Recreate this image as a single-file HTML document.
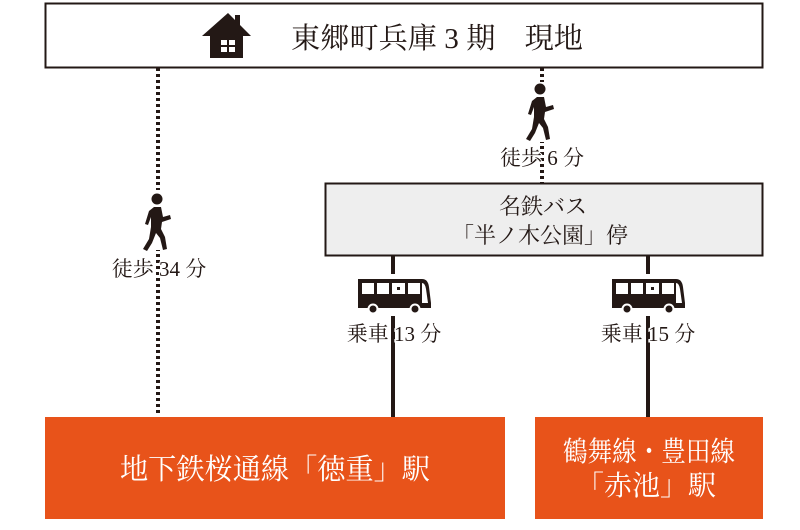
<!DOCTYPE html>
<html><head><meta charset="utf-8"><style>
html,body{margin:0;padding:0;background:#fff;}
svg{display:block}
text{font-family:"Liberation Serif","Noto Serif CJK SC","Noto Serif CJK JP",serif;}
</style></head><body>
<svg width="800" height="530" viewBox="0 0 800 530" xmlns="http://www.w3.org/2000/svg">
<defs>
<g id="walker">
  <circle cx="0" cy="0" r="5.5" fill="#231815"/>
  <path d="M-3,8 L4,8 L6,18 L13,16 L14,20 L5,23 L4,30 L8,38 L10,50 L6,51 L3,39 L-1,34 L-5,44 L-10,52 L-14,50 L-8,40 L-6,28 L-6,18 L-9,26 L-12,25 L-8,12 Z" fill="#231815"/>
</g>
<g id="bus">
  <path d="M0,0 H64 Q70,0 71,8 L73,24 V29 H0 Z" fill="#231815"/>
  <rect x="4" y="4" width="12" height="11" fill="#fff"/>
  <rect x="19" y="4" width="12" height="11" fill="#fff"/>
  <rect x="34" y="4" width="13" height="11" fill="#fff"/>
  <rect x="39" y="8" width="3" height="3" fill="#231815"/>
  <rect x="50" y="4" width="12" height="11" fill="#fff"/>
  <path d="M64,4 Q67,4 68,10 L70,24 H64 Z" fill="#fff"/>
  <circle cx="15" cy="30" r="4.5" fill="#231815" stroke="#fff" stroke-width="2"/>
  <circle cx="57" cy="30" r="4.5" fill="#231815" stroke="#fff" stroke-width="2"/>
</g>
</defs>

<line x1="158" y1="68" x2="158" y2="416" stroke="#231815" stroke-width="4" stroke-dasharray="3,3"/>
<line x1="542" y1="68" x2="542" y2="183" stroke="#231815" stroke-width="4" stroke-dasharray="3,3"/>
<line x1="393" y1="256" x2="393" y2="418" stroke="#231815" stroke-width="4"/>
<line x1="648" y1="256" x2="648" y2="418" stroke="#231815" stroke-width="4"/>

<rect x="45.5" y="3.5" width="717" height="64" fill="#fff" stroke="#231815" stroke-width="2"/>
<g fill="#231815">
  <polygon points="228,13 251,36 202,36"/>
  <rect x="235" y="15" width="5" height="13"/>
  <rect x="210" y="34" width="33" height="24"/>
</g>
<g fill="#fff">
  <rect x="221" y="40" width="6" height="5"/><rect x="229" y="40" width="6" height="5"/>
  <rect x="221" y="47" width="6" height="5"/><rect x="229" y="47" width="6" height="5"/>
</g>
<text x="437" y="48" font-size="29" text-anchor="middle" fill="#231815" textLength="292" lengthAdjust="spacingAndGlyphs">東郷町兵庫 3 期　現地</text>

<rect x="325.5" y="183.5" width="437" height="72" fill="#eeeeee" stroke="#231815" stroke-width="2"/>
<text x="543" y="214" font-size="22" text-anchor="middle" fill="#231815">名鉄バス</text>
<text x="540" y="243" font-size="22" text-anchor="middle" fill="#231815">「半ノ木公園」停</text>

<rect x="148" y="190" width="22" height="60" fill="#fff"/>
<use href="#walker" x="157" y="199"/>
<rect x="528" y="82" width="28" height="60" fill="#fff"/>
<use href="#walker" x="540" y="89"/>
<text x="159" y="276" font-size="21" text-anchor="middle" fill="#231815" stroke="#fff" stroke-width="2" paint-order="stroke">徒歩 34 分</text>
<text x="542" y="165" font-size="21" text-anchor="middle" fill="#231815" stroke="#fff" stroke-width="2" paint-order="stroke">徒歩 6 分</text>

<rect x="355" y="274" width="78" height="42" fill="#fff"/>
<use href="#bus" x="358" y="279"/>
<rect x="610" y="274" width="78" height="42" fill="#fff"/>
<use href="#bus" x="612" y="279"/>
<text x="394" y="341" font-size="21" text-anchor="middle" fill="#231815" stroke="#fff" stroke-width="3" paint-order="stroke">乗車 13 分</text>
<text x="648" y="341" font-size="21" text-anchor="middle" fill="#231815" stroke="#fff" stroke-width="3" paint-order="stroke">乗車 15 分</text>

<rect x="45" y="417" width="460" height="102" fill="#e8531a"/>
<text x="275" y="479" font-size="29" text-anchor="middle" fill="#fff" textLength="310" lengthAdjust="spacingAndGlyphs">地下鉄桜通線「徳重」駅</text>
<rect x="535" y="417" width="228" height="102" fill="#e8531a"/>
<text x="649" y="461" font-size="28" text-anchor="middle" fill="#fff" textLength="172" lengthAdjust="spacingAndGlyphs">鶴舞線・豊田線</text>
<text x="646" y="495" font-size="28" text-anchor="middle" fill="#fff">「赤池」駅</text>
</svg>
</body></html>
